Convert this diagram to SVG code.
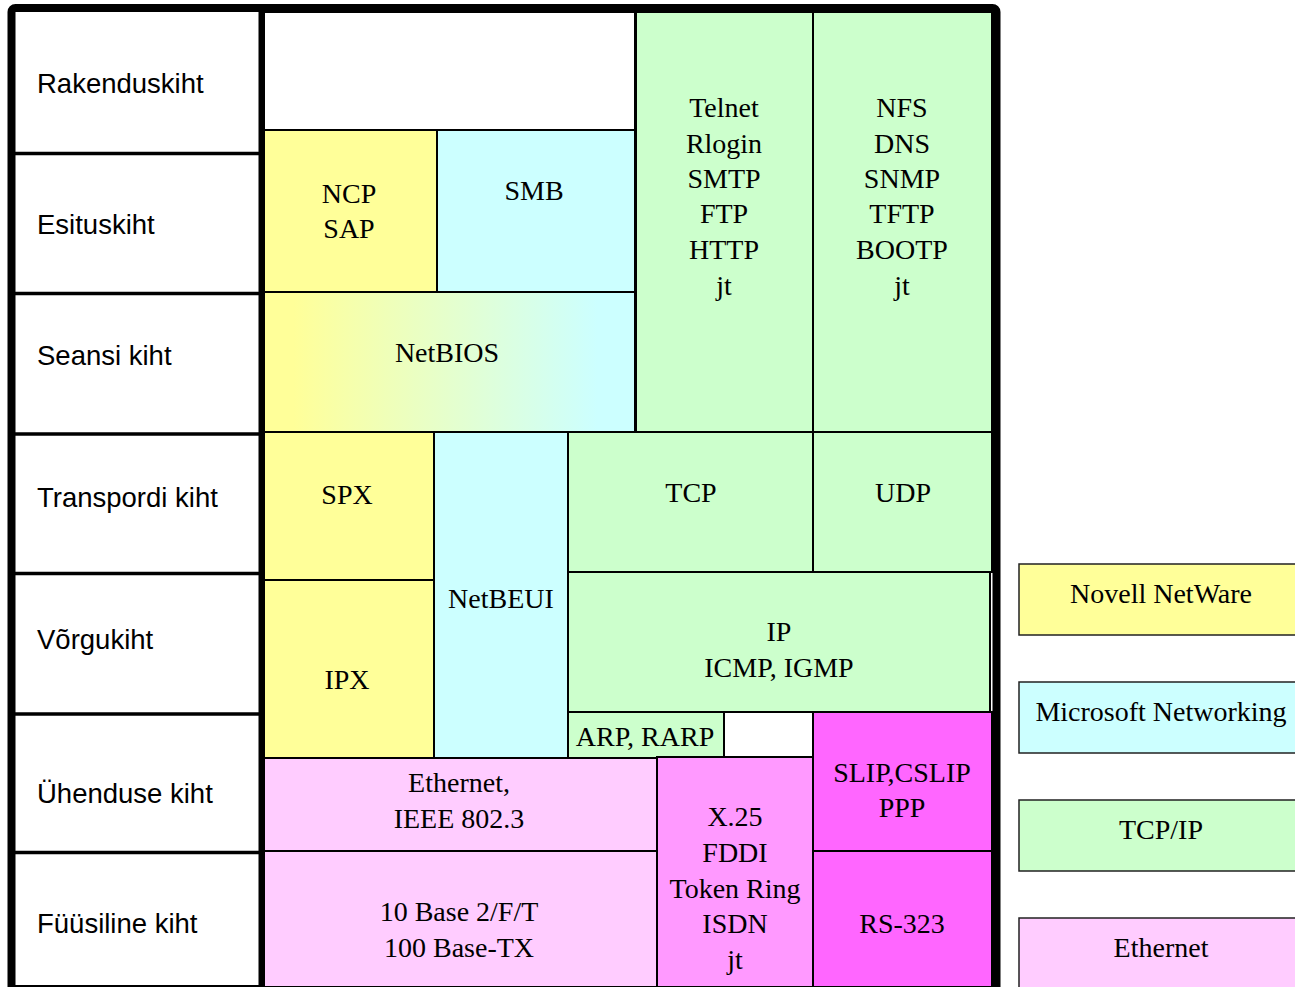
<svg xmlns="http://www.w3.org/2000/svg" width="1295" height="987" viewBox="0 0 1295 987">
  <defs>
    <linearGradient id="gradNetBIOS" x1="0" y1="0" x2="1" y2="0">
      <stop offset="0.08" stop-color="#FFFF99"/>
      <stop offset="0.9" stop-color="#CCFFFF"/>
    </linearGradient>
    <style>
      .cell { stroke: #000; stroke-width: 2; }
      .yellow { fill: #FFFF99; }
      .cyan { fill: #CCFFFF; }
      .green { fill: #CCFFCC; }
      .pink1 { fill: #FFCCFF; }
      .pink2 { fill: #FF99FF; }
      .pink3 { fill: #FF66FF; }
      .white { fill: #FFFFFF; }
      .lbl { font-family: "Liberation Sans", Arial, sans-serif; font-size: 27.5px; fill: #000; }
      .t { font-family: "Liberation Serif", "Times New Roman", serif; font-size: 28px; fill: #000; text-anchor: middle; }
      .sep { stroke: #000; stroke-width: 3.5; }
      .leg { stroke: #222; stroke-width: 1.5; }
    </style>
  </defs>

  <rect x="0" y="0" width="1295" height="987" fill="#FFFFFF"/>

  <!-- layer name column -->
  <g id="layers">
    <g id="layer-7"><text class="lbl" x="37" y="93">Rakenduskiht</text></g>
    <g id="layer-6"><text class="lbl" x="37" y="234">Esituskiht</text></g>
    <g id="layer-5"><text class="lbl" x="37" y="365">Seansi kiht</text></g>
    <g id="layer-4"><text class="lbl" x="37" y="507">Transpordi kiht</text></g>
    <g id="layer-3"><text class="lbl" x="37" y="649">Võrgukiht</text></g>
    <g id="layer-2"><text class="lbl" x="37" y="803">Ühenduse kiht</text></g>
    <g id="layer-1"><text class="lbl" x="37" y="933">Füüsiline kiht</text></g>
  </g>

  <!-- protocol cells -->
  <g id="cell-blank"><rect class="cell white" x="264" y="12" width="371" height="118"/></g>
  <g id="cell-ncp"><rect class="cell yellow" x="264" y="130" width="173" height="162"/>
    <text class="t" x="349" y="203">NCP</text><text class="t" x="349" y="238">SAP</text></g>
  <g id="cell-smb"><rect class="cell cyan" x="437" y="130" width="198" height="162"/>
    <text class="t" x="534" y="200">SMB</text></g>
  <g id="cell-netbios"><rect class="cell" fill="url(#gradNetBIOS)" x="264" y="292" width="371" height="140"/>
    <text class="t" x="447" y="362">NetBIOS</text></g>
  <g id="cell-tcpip-apps1"><rect class="cell green" x="636" y="12" width="177" height="420"/>
    <text class="t" x="724" y="117">Telnet</text><text class="t" x="724" y="153">Rlogin</text>
    <text class="t" x="724" y="188">SMTP</text><text class="t" x="724" y="223">FTP</text>
    <text class="t" x="724" y="259">HTTP</text><text class="t" x="724" y="295">jt</text></g>
  <g id="cell-tcpip-apps2"><rect class="cell green" x="813" y="12" width="179" height="420"/>
    <text class="t" x="902" y="117">NFS</text><text class="t" x="902" y="153">DNS</text>
    <text class="t" x="902" y="188">SNMP</text><text class="t" x="902" y="223">TFTP</text>
    <text class="t" x="902" y="259">BOOTP</text><text class="t" x="902" y="295">jt</text></g>
  <g id="cell-spx"><rect class="cell yellow" x="264" y="432" width="170" height="148"/>
    <text class="t" x="347" y="504">SPX</text></g>
  <g id="cell-ipx"><rect class="cell yellow" x="264" y="580" width="170" height="178"/>
    <text class="t" x="347" y="689">IPX</text></g>
  <g id="cell-netbeui"><rect class="cell cyan" x="434" y="432" width="134" height="326"/>
    <text class="t" x="501" y="608">NetBEUI</text></g>
  <g id="cell-tcp"><rect class="cell green" x="568" y="432" width="245" height="140"/>
    <text class="t" x="691" y="502">TCP</text></g>
  <g id="cell-udp"><rect class="cell green" x="813" y="432" width="179" height="140"/>
    <text class="t" x="903" y="502">UDP</text></g>
  <g id="cell-ip"><rect class="cell green" x="568" y="572" width="422" height="140"/>
    <text class="t" x="779" y="641">IP</text><text class="t" x="779" y="677">ICMP, IGMP</text></g>
  <g id="cell-arp"><rect class="cell green" x="568" y="712" width="156" height="46" stroke-width="3"/>
    <text class="t" x="645" y="746">ARP, RARP</text></g>
  <g id="cell-gap"><rect class="white" x="725" y="713" width="88" height="44"/></g>
  <g id="cell-slip"><rect class="cell pink3" x="813" y="712" width="179" height="139"/>
    <text class="t" x="902" y="782">SLIP,CSLIP</text><text class="t" x="902" y="817">PPP</text></g>
  <g id="cell-ethernet"><rect class="cell pink1" x="264" y="758" width="393" height="93"/>
    <text class="t" x="459" y="792">Ethernet,</text><text class="t" x="459" y="828">IEEE 802.3</text></g>
  <g id="cell-wan"><rect class="cell pink2" x="657" y="757" width="156" height="230"/>
    <text class="t" x="735" y="826">X.25</text><text class="t" x="735" y="862">FDDI</text>
    <text class="t" x="735" y="898">Token Ring</text><text class="t" x="735" y="933">ISDN</text>
    <text class="t" x="735" y="969">jt</text></g>
  <g id="cell-base"><rect class="cell pink1" x="264" y="851" width="393" height="136"/>
    <text class="t" x="459" y="921">10 Base 2/F/T</text><text class="t" x="459" y="957">100 Base-TX</text></g>
  <g id="cell-rs"><rect class="cell pink3" x="813" y="851" width="179" height="136"/>
    <text class="t" x="902" y="933">RS-323</text></g>

  <!-- frame and layer dividers -->
  <g id="connectors" fill="none">
    <line class="sep" x1="12" y1="153.5" x2="262" y2="153.5"/>
    <line class="sep" x1="12" y1="293.5" x2="262" y2="293.5"/>
    <line class="sep" x1="12" y1="434" x2="262" y2="434"/>
    <line class="sep" x1="12" y1="573.5" x2="262" y2="573.5"/>
    <line class="sep" x1="12" y1="714" x2="262" y2="714"/>
    <line class="sep" x1="12" y1="852.5" x2="262" y2="852.5"/>
    <line x1="12" y1="986" x2="262" y2="986" stroke="#000" stroke-width="2"/>
    <line x1="261.5" y1="8" x2="261.5" y2="992" stroke="#000" stroke-width="6"/>
    <rect x="11.5" y="8" width="985" height="990" rx="4" stroke="#000" stroke-width="8"/>
  </g>

  <!-- legend -->
  <g id="legend-novell"><rect class="leg yellow" x="1019" y="564" width="290" height="71"/>
    <text class="t" x="1161" y="603">Novell NetWare</text></g>
  <g id="legend-microsoft"><rect class="leg cyan" x="1019" y="682" width="290" height="71"/>
    <text class="t" x="1161" y="721">Microsoft Networking</text></g>
  <g id="legend-tcpip"><rect class="leg green" x="1019" y="800" width="290" height="71"/>
    <text class="t" x="1161" y="839">TCP/IP</text></g>
  <g id="legend-ethernet"><rect class="leg pink1" x="1019" y="918" width="290" height="80"/>
    <text class="t" x="1161" y="957">Ethernet</text></g>
</svg>
